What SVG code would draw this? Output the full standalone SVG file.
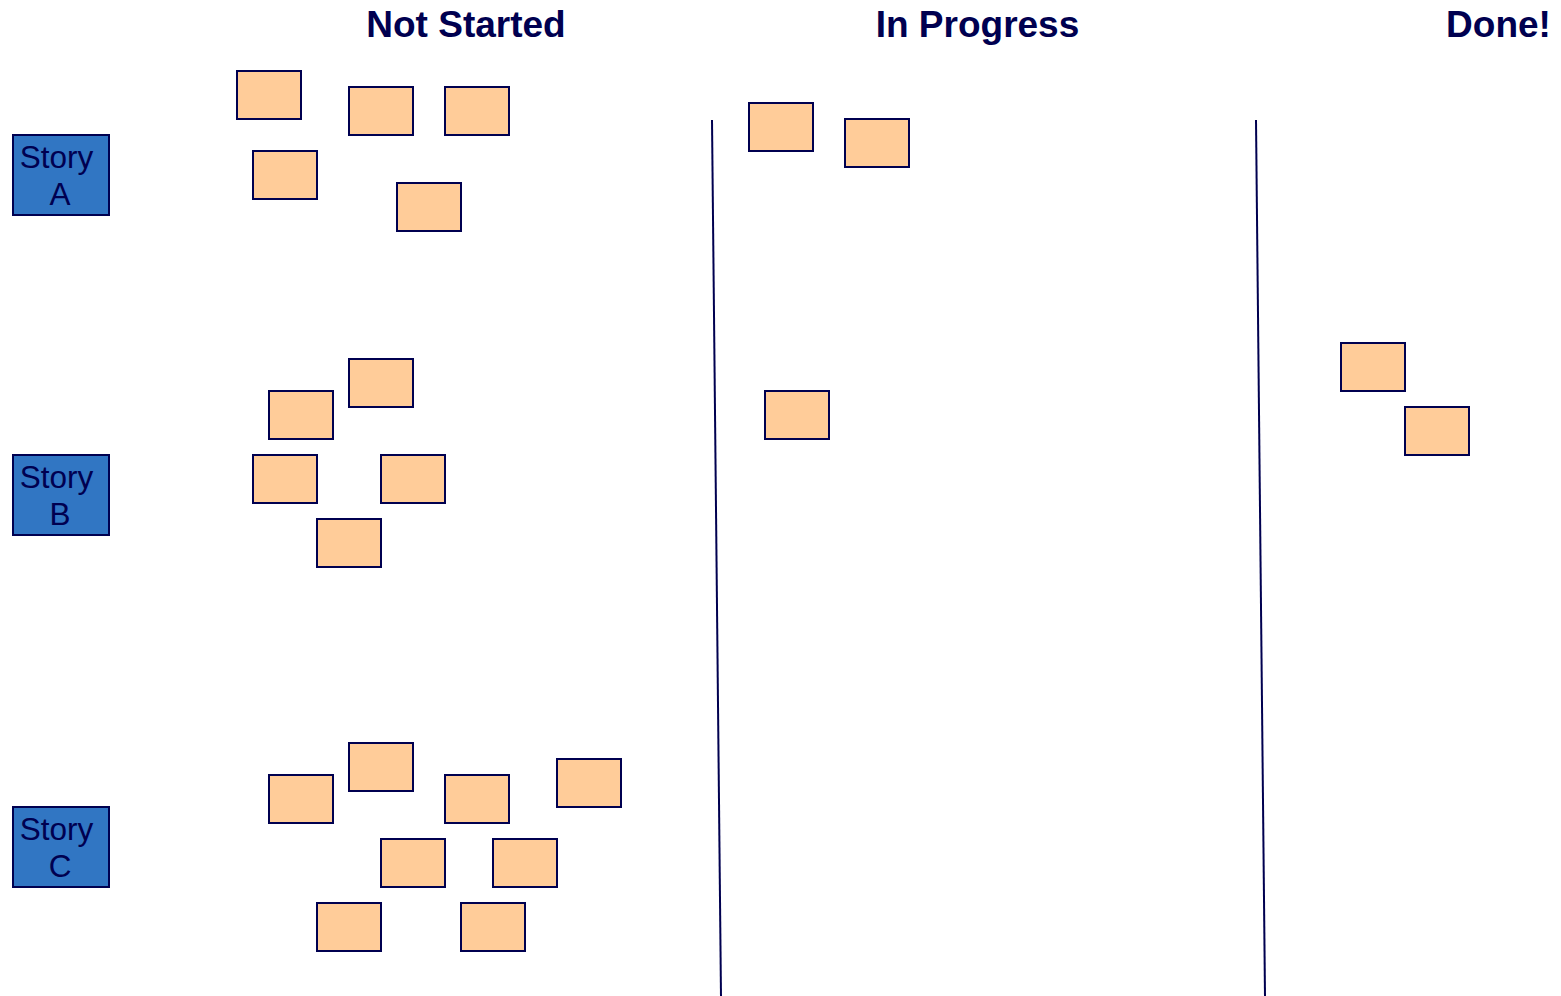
<svg xmlns="http://www.w3.org/2000/svg" width="1561" height="996" viewBox="0 0 1561 996">
  <style>
    .head { font-family: "Liberation Sans", Arial, sans-serif; font-weight: bold; font-size: 37px; fill: #000050; text-anchor: middle; }
    .story rect { fill: #3176C3; stroke: #000050; stroke-width: 2; }
    .story text { font-family: "Liberation Sans", Arial, sans-serif; font-size: 31.5px; fill: #000050; text-anchor: middle; }
    .task { fill: #FFCC99; stroke: #000050; stroke-width: 2; }
    .lane { stroke: #000050; stroke-width: 2; fill: none; }
  </style>
  <defs>
    <rect id="card" width="64" height="48" class="task"/>
  </defs>
  <rect width="1561" height="996" fill="#FFFFFF"/>

  <!-- column headings -->
  <g id="headings">
    <text class="head" x="466" y="37">Not Started</text>
    <text class="head" x="977.5" y="37">In Progress</text>
    <text class="head" x="1498.5" y="37">Done!</text>
  </g>

  <!-- lane dividers -->
  <g id="connectors">
    <line class="lane" x1="712" y1="120" x2="721" y2="996"/>
    <line class="lane" x1="1256" y1="120" x2="1265" y2="996"/>
  </g>

  <!-- stories -->
  <g id="story-a" class="story">
    <rect x="13" y="135" width="96" height="80"/>
    <text x="56.5" y="168">Story</text>
    <text x="60" y="205">A</text>
  </g>
  <g id="story-b" class="story">
    <rect x="13" y="455" width="96" height="80"/>
    <text x="56.5" y="488">Story</text>
    <text x="60" y="525">B</text>
  </g>
  <g id="story-c" class="story">
    <rect x="13" y="807" width="96" height="80"/>
    <text x="56.5" y="840">Story</text>
    <text x="60" y="877">C</text>
  </g>

  <!-- task cards, story A -->
  <g id="tasks-a">
    <use href="#card" x="237" y="71"/>
    <use href="#card" x="349" y="87"/>
    <use href="#card" x="445" y="87"/>
    <use href="#card" x="253" y="151"/>
    <use href="#card" x="397" y="183"/>
    <use href="#card" x="749" y="103"/>
    <use href="#card" x="845" y="119"/>
  </g>

  <!-- task cards, story B -->
  <g id="tasks-b">
    <use href="#card" x="349" y="359"/>
    <use href="#card" x="269" y="391"/>
    <use href="#card" x="253" y="455"/>
    <use href="#card" x="381" y="455"/>
    <use href="#card" x="317" y="519"/>
    <use href="#card" x="765" y="391"/>
    <use href="#card" x="1341" y="343"/>
    <use href="#card" x="1405" y="407"/>
  </g>

  <!-- task cards, story C -->
  <g id="tasks-c">
    <use href="#card" x="349" y="743"/>
    <use href="#card" x="269" y="775"/>
    <use href="#card" x="445" y="775"/>
    <use href="#card" x="557" y="759"/>
    <use href="#card" x="381" y="839"/>
    <use href="#card" x="493" y="839"/>
    <use href="#card" x="317" y="903"/>
    <use href="#card" x="461" y="903"/>
  </g>
</svg>
